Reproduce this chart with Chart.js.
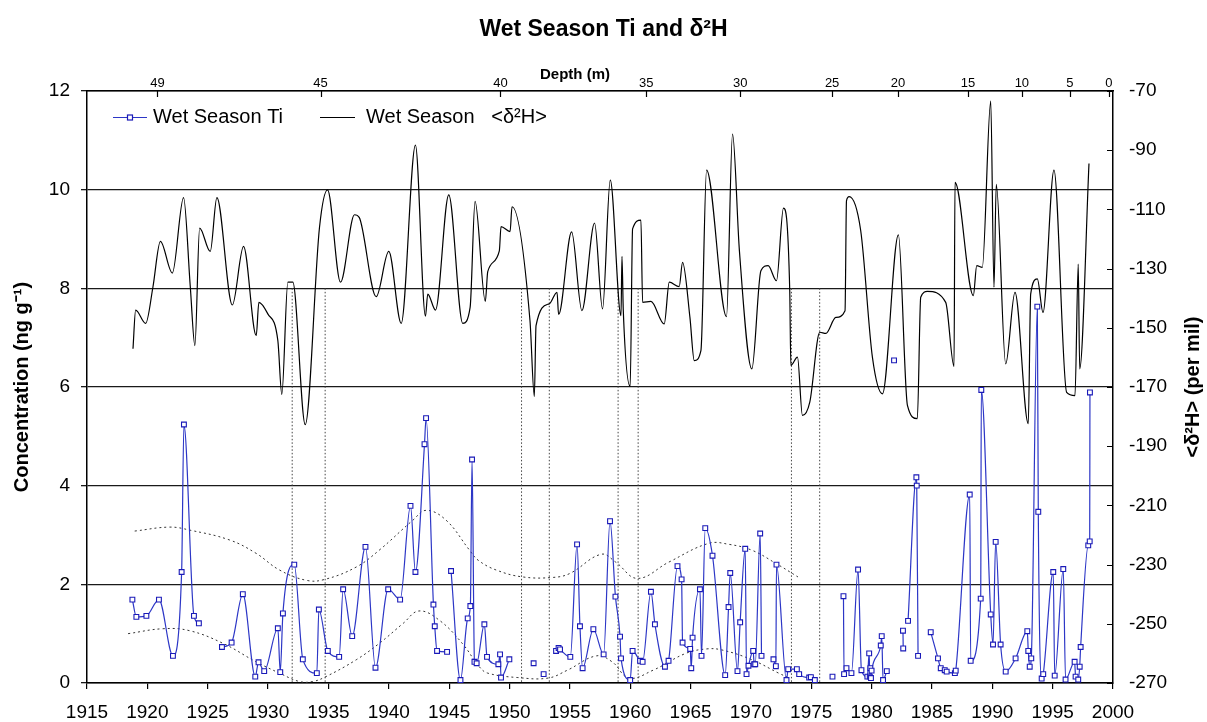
<!DOCTYPE html>
<html>
<head>
<meta charset="utf-8">
<script src="https://cdn.jsdelivr.net/npm/chart.js@4.4.1/dist/chart.umd.min.js"></script>
<style>
  html, body { margin: 0; padding: 0; background: #fff; }
</style>
</head>
<body>
<canvas id="wetChart" width="1207" height="722"></canvas>
<script>
// wet season Ti concentration (ng/g); null marks a break in the line
const tiYears = [
  1918.76, 1919.09, 1919.92, 1920.96, 1922.12, 1922.84, 1923.03, 1923.86, 1924.27, 1925.2,
  1926.18, 1926.98, 1927.91, 1928.94, 1929.21, 1929.68, 1930.81, 1931.01, 1931.23, 1932.17,
  1932.88, 1934.04, 1934.21, 1934.95, 1935.89, 1936.22, 1936.97, 1938.07, 1938.90, 1939.95,
  1940.94, 1941.80, 1942.21, 1942.96, 1943.09, 1943.70, 1943.81, 1944.00, 1944.83, 1945.0,
  1945.16, 1945.94, 1946.54, 1946.76, 1946.90, 1947.10, 1947.28, 1947.92, 1948.14, 1949.08,
  1949.22, 1949.30, 1949.99, 1951.0,
  1952.00, 1952.4, 1952.83, 1953.3,
  1953.86, 1954.07, 1954.19, 1955.04, 1955.60, 1955.84, 1956.06, 1956.95, 1957.80, 1958.33,
  1958.78, 1959.16, 1959.24, 1960.00, 1960.20, 1960.82, 1961.03, 1961.72, 1962.05, 1962.88,
  1963.18, 1963.92, 1964.26, 1964.34, 1964.97, 1965.06, 1965.17, 1965.78, 1965.91, 1966.22,
  1966.82, 1967.87, 1968.15, 1968.29, 1968.89, 1969.11, 1969.53, 1969.64, 1969.80, 1970.19,
  1970.27, 1970.36, 1970.77, 1970.88, 1971.4,
  1971.87, 1972.07, 1972.12, 1972.95, 1973.09, 1973.81, 1974.00, 1974.83, 1974.97, 1975.30, 1976.0,
  1976.76, 1977.2,
  1977.67, 1977.72, 1977.92, 1978.33, 1978.88, 1979.16, 1979.65, 1979.80, 1979.85, 1979.90,
  1979.95, 1980.00, 1980.76, 1980.84, 1980.95, 1981.26, 1981.5,
  1981.86, 1982.2,
  1982.60, 1982.62, 1982.8,
  1983.02, 1983.71, 1983.74, 1983.85, 1984.4,
  1984.90, 1985.50, 1985.73, 1986.06, 1986.22, 1986.90, 1986.97, 1988.13, 1988.21, 1989.04,
  1989.09, 1989.87, 1990.06, 1990.28, 1990.69, 1991.11, 1991.93, 1992.90, 1992.98, 1993.10,
  1993.23, 1993.73, 1993.81, 1994.09, 1994.22, 1995.05, 1995.17, 1995.88, 1996.07, 1996.82,
  1996.90, 1997.12, 1997.24, 1997.32, 1997.95, 1998.07, 1998.09
];
const tiValues = [
  1.69, 1.34, 1.36, 1.69, 0.55, 2.25, 5.24, 1.36, 1.21, null,
  0.73, 0.82, 1.80, 0.13, 0.42, 0.24, 1.11, 0.22, 1.41, 2.40,
  0.48, 0.20, 1.49, 0.65, 0.53, 1.90, 0.95, 2.76, 0.31, 1.90,
  1.69, 3.59, 2.25, 4.84, 5.37, 1.59, 1.15, 0.65, 0.63, null,
  2.27, 0.06, 1.31, 1.56, 4.53, 0.43, 0.40, 1.19, 0.53, 0.38,
  0.58, 0.11, 0.48, null,
  0.40, null, 0.18, null,
  0.65, 0.71, 0.68, 0.53, 2.81, 1.15, 0.30, 1.09, 0.58, 3.28,
  1.75, 0.94, 0.50, 0.06, 0.65, 0.45, 0.43, 1.85, 1.19, 0.33,
  0.45, 2.37, 2.10, 0.82, 0.69, 0.30, 0.92, 1.90, 0.55, 3.14,
  2.58, 0.16, 1.54, 2.23, 0.24, 1.23, 2.72, 0.18, 0.35, 0.65,
  0.38, 0.38, 3.03, 0.55, null,
  0.48, 0.34, 2.40, 0.06, 0.28, 0.28, 0.18, 0.11, 0.12, 0.06, null,
  0.13, null,
  1.76, 0.18, 0.30, 0.20, 2.30, 0.26, 0.13, 0.60, 0.13, 0.30,
  0.10, 0.25, 0.76, 0.95, 0.06, 0.24, null,
  6.54, null,
  1.06, 0.70, null,
  1.26, 4.17, 4.00, 0.55, null,
  1.03, 0.50, 0.30, 0.26, 0.23, 0.20, 0.25, 3.82, 0.45, 1.71,
  5.94, 1.39, 0.78, 2.86, 0.78, 0.23, 0.50, 1.05, 0.65, 0.33,
  0.50, 7.63, 3.47, 0.09, 0.18, 2.25, 0.15, 2.31, 0.07, 0.43,
  0.13, 0.07, 0.33, 0.73, 2.79, 2.87, 5.89
];

// wet season <d2H> (per mil)
const dhYears = [
  1918.81, 1919.03, 1919.86, 1920.46, 1921.08, 1922.07, 1923.00, 1923.56, 1923.94, 1924.33,
  1925.21, 1925.76, 1927.04, 1927.97, 1929.02, 1929.24, 1929.98, 1930.81, 1931.14, 1931.64,
  1932.05, 1933.08, 1934.26, 1934.93, 1936.00, 1937.16, 1937.55, 1938.96, 1940.00, 1941.03,
  1942.21, 1943.04, 1943.23, 1943.87, 1944.97, 1946.13, 1946.74, 1947.15, 1948.00, 1948.20,
  1949.16, 1949.30, 1950.05, 1950.21, 1951.70, 1952.06, 1952.20, 1953.30, 1953.94, 1954.07,
  1955.15, 1956.00, 1957.05, 1957.71, 1958.35, 1959.24, 1959.32, 1959.43, 1960.00, 1960.20,
  1960.89, 1961.03, 1961.72, 1962.82, 1963.24, 1964.06, 1964.34, 1964.95, 1965.31, 1965.86,
  1966.33, 1967.98, 1968.48, 1969.05, 1970.08, 1970.83, 1971.43, 1972.12, 1972.70, 1973.22,
  1973.31, 1973.86, 1974.27, 1974.88, 1975.71, 1976.21, 1977.04, 1977.80, 1977.92, 1978.14,
  1979.10, 1980.07, 1980.90, 1982.22, 1982.97, 1983.79, 1984.07, 1984.62, 1986.14, 1986.83,
  1986.91, 1988.43, 1988.71, 1989.17, 1989.87, 1990.14, 1990.33, 1991.11, 1991.88, 1992.98,
  1993.18, 1993.73, 1994.20, 1995.11, 1996.16, 1996.85, 1997.12, 1997.24, 1998.01
];
const dhValues = [
  -157.1, -144.0, -148.5, -136.3, -120.8, -131.5, -106.0, -136.3, -156.0, -116.3,
  -124.2, -106.0, -142.3, -122.5, -152.6, -141.4, -145.3, -154.3, -172.5, -134.6,
  -134.6, -182.7, -116.1, -103.4, -134.6, -111.8, -112.7, -139.5, -124.2, -148.5,
  -88.3, -146.1, -138.6, -144.0, -105.1, -148.5, -143.1, -107.3, -141.1, -131.0,
  -124.0, -115.8, -117.5, -109.1, -147.6, -173.2, -149.3, -141.9, -138.0, -145.5,
  -117.6, -144.2, -114.6, -143.6, -100.1, -145.9, -125.9, -144.2, -169.8, -116.6,
  -113.6, -141.4, -141.1, -148.7, -134.6, -136.1, -127.9, -146.5, -161.1, -157.7,
  -96.7, -146.2, -84.6, -124.0, -163.9, -130.7, -129.0, -134.1, -109.6, -137.5,
  -162.7, -159.9, -179.6, -175.1, -151.5, -151.9, -146.5, -144.2, -107.1, -105.7,
  -117.2, -160.0, -172.3, -118.6, -176.2, -180.7, -139.7, -137.7, -141.4, -163.1,
  -100.9, -139.1, -129.0, -129.6, -73.4, -136.3, -101.5, -162.2, -138.0, -182.4,
  -138.6, -133.5, -144.8, -96.7, -171.8, -172.9, -128.5, -163.9, -94.5
];

// dotted envelope curves around the Ti record
const upperYears = [1918.95, 1921.85, 1923.5, 1926.8, 1929.0, 1930.95, 1933.2, 1934.7, 1937.3, 1939.2,
  1942.0, 1943.1, 1944.75, 1946.7, 1947.4, 1948.9, 1951.1, 1953.6, 1955.0, 1957.6, 1958.8, 1960.6,
  1963.2, 1966.5, 1968.2, 1970.1, 1972.1, 1973.9];
const upperValues = [3.08, 3.16, 3.1, 2.9, 2.63, 2.29, 2.08, 2.1, 2.35, 2.69,
  3.3, 3.5, 3.3, 2.69, 2.49, 2.29, 2.15, 2.14, 2.22, 2.61, 2.45, 2.12,
  2.45, 2.83, 2.81, 2.69, 2.42, 2.15];
const lowerYears = [1918.4, 1921.3, 1923.5, 1926.3, 1929.0, 1930.95, 1932.6, 1933.7, 1934.8, 1937.3,
  1939.2, 1941.2, 1942.5, 1944.2, 1946.1, 1947.5, 1948.2, 1950.7, 1953.2, 1954.8, 1957.2, 1958.5,
  1959.9, 1961.9, 1964.6, 1966.3, 1967.6, 1970.1, 1972.3, 1973.2];
const lowerValues = [1.0, 1.1, 1.06, 0.8, 0.43, 0.2, 0.03, 0.03, 0.13, 0.47,
  0.8, 1.21, 1.46, 1.27, 0.8, 0.33, 0.2, 0.11, 0.1, 0.26, 0.55, 0.43,
  0.1, 0.26, 0.6, 0.69, 0.67, 0.47, 0.2, 0.1];

// vertical dotted marker lines (years), drawn from concentration 8 down to 0
const markerYears = [1932.0, 1934.73, 1951.0, 1953.3, 1959.0, 1960.66, 1973.36, 1975.7];
const markerTop = 8;

// top axis: depth labels and the years they sit at
const depthLabels = ['49', '45', '40', '35', '30', '25', '20', '15', '10', '5', '0'];
const depthYears = [1920.84, 1934.35, 1949.25, 1961.33, 1969.11, 1976.73, 1982.19, 1987.98, 1992.45, 1996.43, 1999.66];

const TI_BLUE = '#2c36c6';
const FONT = "'Liberation Sans', Arial, sans-serif";

const pairs = (xs, ys) => xs.map((x, i) => ({ x: x, y: ys[i] }));

const markerPoints = [];
markerYears.forEach(yr => {
  markerPoints.push({ x: yr, y: markerTop }, { x: yr, y: 0 }, { x: yr, y: null });
});

// inner ticks, right-hand title (reads upward) and the in-plot legend
const overlayPlugin = {
  id: 'overlay',
  afterDraw(chart) {
    const { ctx, chartArea: a, scales } = chart;
    ctx.save();
    ctx.strokeStyle = '#000';
    ctx.lineWidth = 1.2;
    ctx.beginPath();
    scales.x2.ticks.forEach(t => {
      const px = Math.round(scales.x2.getPixelForValue(t.value)) + 0.5;
      ctx.moveTo(px, a.top);
      ctx.lineTo(px, a.top + 6);
    });
    scales.y2.ticks.forEach(t => {
      const py = Math.round(scales.y2.getPixelForValue(t.value)) + 0.5;
      ctx.moveTo(a.right - 6, py);
      ctx.lineTo(a.right, py);
    });
    ctx.stroke();

    // right axis title
    ctx.fillStyle = '#000';
    ctx.font = 'bold 20px ' + FONT;
    ctx.textAlign = 'center';
    ctx.textBaseline = 'middle';
    ctx.translate(scales.y2.right - 14, (a.top + a.bottom) / 2);
    ctx.rotate(-Math.PI / 2);
    ctx.fillText('<δ²H> (per mil)', 0, 0);
    ctx.setTransform(1, 0, 0, 1, 0, 0);

    // legend
    const ly = a.top + 26.5;
    ctx.lineWidth = 1.2;
    ctx.strokeStyle = TI_BLUE;
    ctx.beginPath();
    ctx.moveTo(a.left + 26, ly);
    ctx.lineTo(a.left + 60, ly);
    ctx.stroke();
    ctx.fillStyle = '#fff';
    ctx.strokeStyle = '#1a1ab8';
    ctx.fillRect(a.left + 40.5, ly - 2.5, 5, 5);
    ctx.strokeRect(a.left + 40.5, ly - 2.5, 5, 5);
    ctx.strokeStyle = '#000';
    ctx.beginPath();
    ctx.moveTo(a.left + 233, ly);
    ctx.lineTo(a.left + 268, ly);
    ctx.stroke();
    ctx.fillStyle = '#000';
    ctx.font = '20px ' + FONT;
    ctx.textAlign = 'left';
    ctx.fillText('Wet Season Ti', a.left + 66, ly);
    ctx.fillText('Wet Season   <δ²H>', a.left + 279, ly);
    ctx.restore();
  }
};

Chart.defaults.font.family = FONT;
Chart.defaults.color = '#000';

const axisBorder = { display: true, color: '#000', width: 1.5 };

new Chart(document.getElementById('wetChart').getContext('2d'), {
  type: 'line',
  data: {
    datasets: [
      {
        label: 'Wet Season Ti',
        data: pairs(tiYears, tiValues),
        yAxisID: 'y',
        xAxisID: 'x',
        borderColor: TI_BLUE,
        borderWidth: 1.2,
        pointStyle: 'rect',
        pointRadius: 3.4,
        pointBorderWidth: 1.1,
        pointBorderColor: '#1a1ab8',
        pointBackgroundColor: '#fff',
        cubicInterpolationMode: 'monotone',
        spanGaps: false
      },
      {
        label: 'Wet Season <δ²H>',
        data: pairs(dhYears, dhValues),
        yAxisID: 'y2',
        xAxisID: 'x',
        borderColor: '#000',
        borderWidth: 1.2,
        pointRadius: 0,
        cubicInterpolationMode: 'monotone'
      },
      {
        label: 'upper',
        data: pairs(upperYears, upperValues),
        yAxisID: 'y',
        xAxisID: 'x',
        borderColor: '#333',
        borderWidth: 1,
        borderDash: [2, 3],
        pointRadius: 0,
        tension: 0.4
      },
      {
        label: 'lower',
        data: pairs(lowerYears, lowerValues),
        yAxisID: 'y',
        xAxisID: 'x',
        borderColor: '#333',
        borderWidth: 1,
        borderDash: [2, 3],
        pointRadius: 0,
        tension: 0.4
      },
      {
        label: 'markers',
        data: markerPoints,
        yAxisID: 'y',
        xAxisID: 'x',
        borderColor: '#444',
        borderWidth: 1,
        borderDash: [1.5, 2],
        pointRadius: 0,
        spanGaps: false
      }
    ]
  },
  options: {
    responsive: false,
    animation: false,
    layout: { padding: 0 },
    plugins: {
      legend: { display: false },
      tooltip: { enabled: false },
      title: {
        display: true,
        text: 'Wet Season Ti and δ²H',
        font: { size: 23, weight: 'bold' },
        color: '#000',
        padding: { top: 16, bottom: 5.4 }
      }
    },
    scales: {
      x: {
        type: 'linear',
        position: 'bottom',
        min: 1915,
        max: 2000,
        ticks: { stepSize: 5, autoSkip: false, maxRotation: 0, padding: 12, font: { size: 19 }, callback: v => String(v) },
        grid: { drawOnChartArea: false, color: '#000', tickLength: 6, lineWidth: 1.2 },
        border: axisBorder,
        afterFit: s => { s.height = 39; }
      },
      x2: {
        type: 'linear',
        position: 'top',
        min: 1915,
        max: 2000,
        afterBuildTicks: s => { s.ticks = depthYears.map(v => ({ value: v })); },
        ticks: { autoSkip: false, maxRotation: 0, padding: 0, font: { size: 13 }, callback: (v, i) => depthLabels[i] },
        grid: { display: false, drawTicks: false },
        border: axisBorder,
        title: {
          display: true,
          text: 'Depth (m)            ',
          font: { size: 15, weight: 'bold' },
          padding: { top: 17, bottom: 0 }
        },
        afterFit: s => { s.height = 42; }
      },
      y: {
        position: 'left',
        min: 0,
        max: 12,
        ticks: { stepSize: 2, padding: 11, font: { size: 19 } },
        grid: { color: '#1a1a1a', lineWidth: 1.3, tickLength: 6 },
        border: axisBorder,
        title: {
          display: true,
          text: 'Concentration (ng g⁻¹)',
          font: { size: 20, weight: 'bold' },
          padding: { top: 10, bottom: 0 }
        },
        afterFit: s => { s.width = 87; }
      },
      y2: {
        position: 'right',
        min: -270,
        max: -70,
        ticks: { stepSize: 20, padding: 16, font: { size: 19 }, callback: v => String(v) },
        grid: { display: false, drawTicks: false },
        border: axisBorder,
        afterFit: s => { s.width = 94; }
      }
    }
  },
  plugins: [overlayPlugin]
});
</script>
</body>
</html>
